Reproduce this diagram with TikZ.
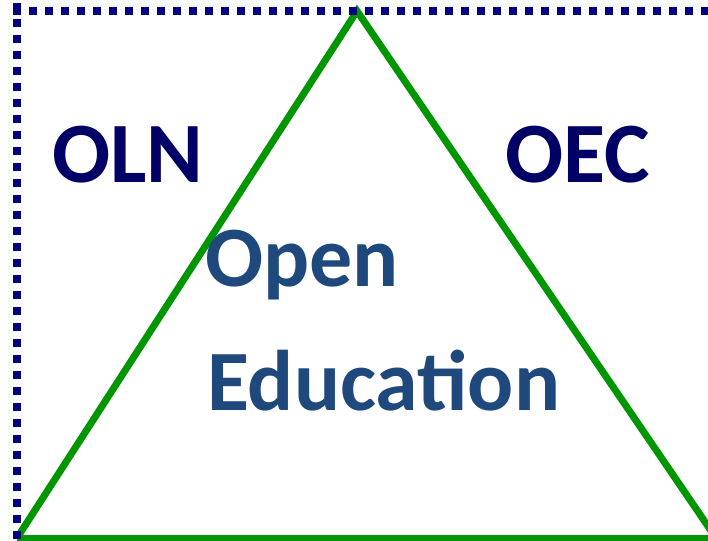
\documentclass[tikz,border=0pt]{standalone}
\usepackage{fontspec}
\setmainfont{Carlito}
\definecolor{navytxt}{RGB}{0,0,102}
\definecolor{bluetxt}{RGB}{31,73,125}
\definecolor{tgreen}{RGB}{0,150,0}
\definecolor{bordernavy}{RGB}{0,0,128}
\tikzset{
  border/.style={draw=bordernavy, line width=8pt, dash pattern=on 8pt off 8pt, line cap=butt},
  triside/.style={draw=tgreen, line width=7pt, line cap=butt},
  bigtxt/.style={anchor=base west, inner sep=0pt, font=\bfseries\fontsize{86}{86}\selectfont},
}
\begin{document}
\begin{tikzpicture}[x=1pt,y=-1pt]
\useasboundingbox (0,0) rectangle (708,540);
\coordinate (apex) at (357,11);
\coordinate (bl) at (17,538);
\coordinate (br) at (716,538);
\draw[triside, line join=miter] (bl) -- (apex) -- (br);
\draw[triside] (bl) -- (br);
\coordinate (tl) at (17,3);
\coordinate (tls) at (13,11);
\coordinate (tr) at (708,11);
\coordinate (lb) at (17,540);
\draw[border] (tls) -- (tr);
\draw[border] (tl) -- (lb);
\node[bigtxt, text=navytxt] (oln) at (52,182) {OLN};
\node[bigtxt, text=navytxt] (oec) at (505,182) {OEC};
\node[bigtxt, text=bluetxt] (open) at (205,286) {Open};
\node[bigtxt, text=bluetxt] (edu) at (207,410) {Education};
\end{tikzpicture}
\end{document}
